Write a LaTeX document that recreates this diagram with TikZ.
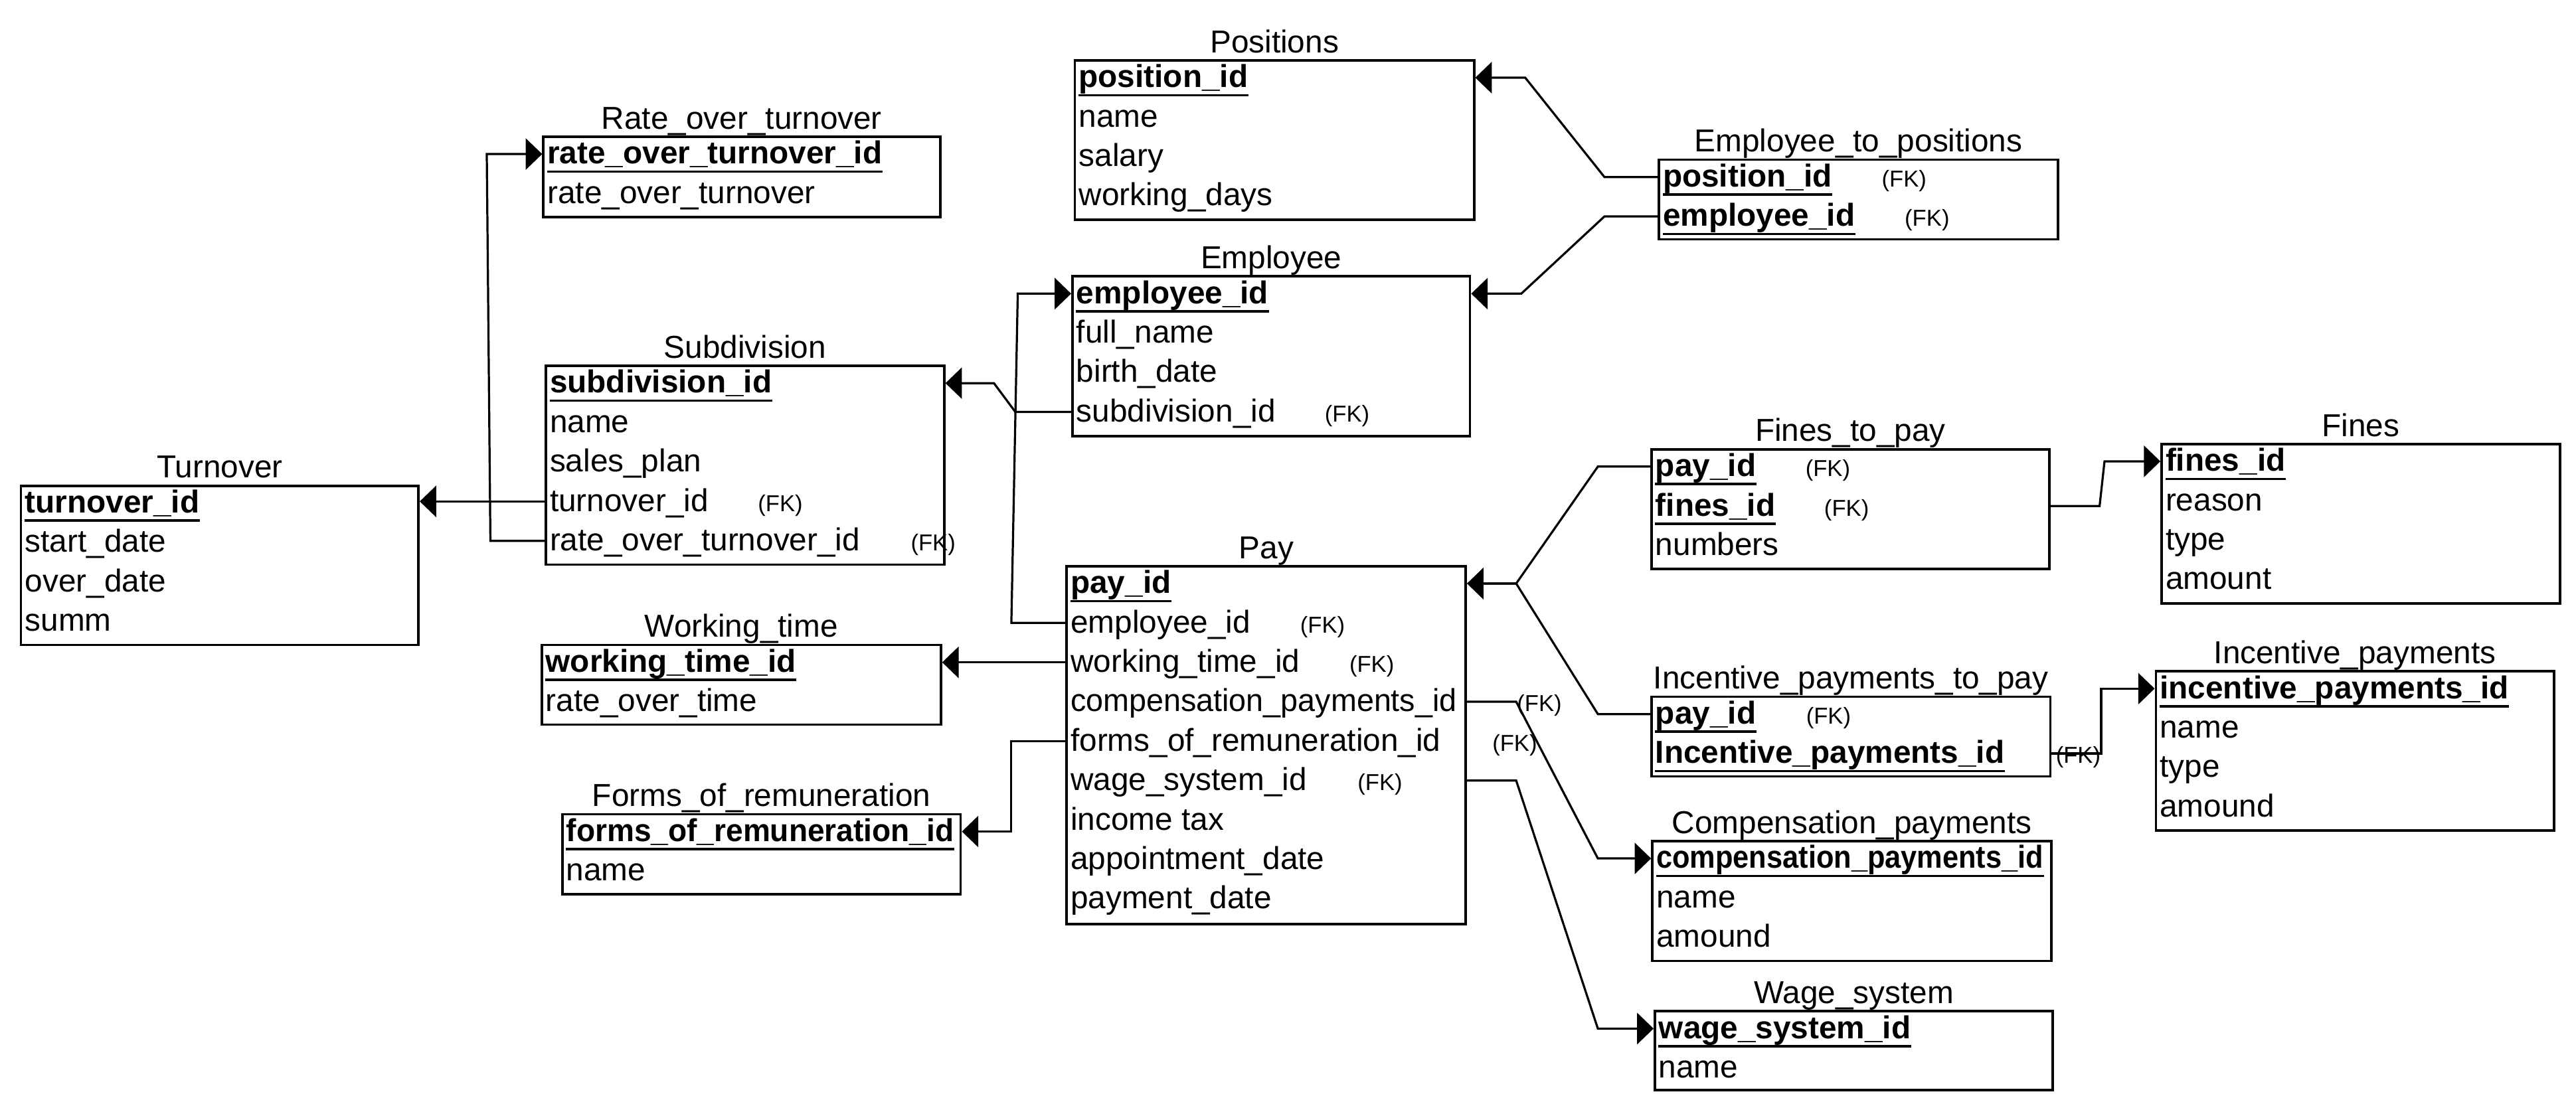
\documentclass[tikz,border=0pt]{standalone}
\usepackage{graphicx}
\usepackage{fontspec}
\setmainfont{Liberation Sans}
\usetikzlibrary{arrows.meta}

\tikzset{
  tbl/.style={draw, line width=1.5pt, anchor=north west, inner sep=0pt},
  ttl/.style={anchor=base, inner sep=0pt, font=\fontsize{19.3}{23}\selectfont},
  row/.style={anchor=west, inner sep=0pt, font=\fontsize{19.3}{23}\selectfont, text height=16.5pt, text depth=4.5pt},
  fk/.style={anchor=base, inner sep=0pt, font=\fontsize{14}{17}\selectfont},
  ul/.style={line width=1.5pt},
  link/.style={line width=1.3pt, -{Triangle[length=10pt,width=19pt]}}
}

\begin{document}
\begin{tikzpicture}[x=1pt,y=-1pt]
\useasboundingbox (0,0) rectangle (1568,674.3);

% Turnover
\node[tbl, minimum width=242pt, minimum height=97pt] (Tur) at (12,295) {};
\node[ttl] (TurT) at ([yshift=4pt]Tur.north) {Turnover};
\foreach \t [count=\n] in {\textbf{turnover\_id},start\_date,over\_date,summ}
  \node[row] (Tur\n) at (15,{282.3+24*\n}) {\t};

% Rate_over_turnover
\node[tbl, minimum width=241.5pt, minimum height=49pt] (Rot) at (330,82.5) {};
\node[ttl] (RotT) at ([yshift=4pt]Rot.north) {Rate\_over\_turnover};
\foreach \t [count=\n] in {\textbf{rate\_over\_turnover\_id},rate\_over\_turnover}
  \node[row] (Rot\n) at (333,{69.8+24*\n}) {\t};

% Subdivision
\node[tbl, minimum width=242.5pt, minimum height=121pt] (Sub) at (331.5,222) {};
\node[ttl] (SubT) at ([yshift=4pt]Sub.north) {Subdivision};
\foreach \t [count=\n] in {\textbf{subdivision\_id},name,sales\_plan,turnover\_id,rate\_over\_turnover\_id}
  \node[row] (Sub\n) at (334.5,{209.3+24*\n}) {\t};
\foreach \r/\x in {4/475,5/568}
  \node[fk] (fkSub\r) at (\x,0 |- Sub\r.base) {(FK)};

% Working_time
\node[tbl, minimum width=243pt, minimum height=48.5pt] (Wt) at (329,392) {};
\node[ttl] (WtT) at ([yshift=4pt]Wt.north) {Working\_time};
\foreach \t [count=\n] in {\textbf{working\_time\_id},rate\_over\_time}
  \node[row] (Wt\n) at (332,{379.3+24*\n}) {\t};

% Forms_of_remuneration
\node[tbl, minimum width=242.5pt, minimum height=48.7pt] (Fr) at (341.5,495) {};
\node[ttl] (FrT) at ([yshift=4pt]Fr.north) {Forms\_of\_remuneration};
\foreach \t [count=\n] in {\scalebox{0.965}[1]{\textbf{forms\_of\_remuneration\_id}},name}
  \node[row] (Fr\n) at (344.5,{482.3+24*\n}) {\t};

% Positions
\node[tbl, minimum width=243pt, minimum height=97pt] (Pos) at (653.5,36) {};
\node[ttl] (PosT) at ([yshift=4pt]Pos.north) {Positions};
\foreach \t [count=\n] in {\textbf{position\_id},name,salary,working\_days}
  \node[row] (Pos\n) at (656.5,{23.3+24*\n}) {\t};

% Employee
\node[tbl, minimum width=242pt, minimum height=97.3pt] (Emp) at (652,167.5) {};
\node[ttl] (EmpT) at ([yshift=4pt]Emp.north) {Employee};
\foreach \t [count=\n] in {\textbf{employee\_id},full\_name,birth\_date,subdivision\_id}
  \node[row] (Emp\n) at (655,{154.8+24*\n}) {\t};
\node[fk] (fkEmp4) at (820,0 |- Emp4.base) {(FK)};

% Employee_to_positions
\node[tbl, minimum width=243pt, minimum height=48.5pt] (Etp) at (1009,96.5) {};
\node[ttl] (EtpT) at ([yshift=4pt]Etp.north) {Employee\_to\_positions};
\foreach \t [count=\n] in {\textbf{position\_id},\textbf{employee\_id}}
  \node[row] (Etp\n) at (1012,{83.8+24*\n}) {\t};
\foreach \r/\x in {1/1159,2/1173}
  \node[fk] (fkEtp\r) at (\x,0 |- Etp\r.base) {(FK)};

% Pay
\node[tbl, minimum width=243pt, minimum height=218pt] (Pay) at (648.5,344) {};
\node[ttl] (PayT) at ([yshift=4pt]Pay.north) {Pay};
\foreach \t [count=\n] in {\textbf{pay\_id},employee\_id,working\_time\_id,\scalebox{0.978}[1]{compensation\_payments\_id},forms\_of\_remuneration\_id,wage\_system\_id,income tax,appointment\_date,payment\_date}
  \node[row] (Pay\n) at (651.5,{331.3+24*\n}) {\t};
\foreach \r/\x in {2/805,3/835,4/937,5/922,6/840}
  \node[fk] (fkPay\r) at (\x,0 |- Pay\r.base) {(FK)};

% Fines_to_pay
\node[tbl, minimum width=242.2pt, minimum height=72.8pt] (Ftp) at (1004.5,272.8) {};
\node[ttl] (FtpT) at ([yshift=4pt]Ftp.north) {Fines\_to\_pay};
\foreach \t [count=\n] in {\textbf{pay\_id},\textbf{fines\_id},numbers}
  \node[row] (Ftp\n) at (1007.5,{260.1+24*\n}) {\t};
\foreach \r/\x in {1/1112.6,2/1124}
  \node[fk] (fkFtp\r) at (\x,0 |- Ftp\r.base) {(FK)};

% Fines
\node[tbl, minimum width=242.4pt, minimum height=97pt] (Fin) at (1315,269.6) {};
\node[ttl] (FinT) at ([yshift=4pt]Fin.north) {Fines};
\foreach \t [count=\n] in {\textbf{fines\_id},reason,type,amount}
  \node[row] (Fin\n) at (1318,{256.9+24*\n}) {\t};

% Incentive_payments_to_pay
\node[tbl, minimum width=242.8pt, minimum height=48.5pt] (Ipp) at (1004.5,423.5) {};
\node[ttl] (IppT) at ([yshift=4pt]Ipp.north) {Incentive\_payments\_to\_pay};
\foreach \t [count=\n] in {\textbf{pay\_id},\textbf{Incentive\_payments\_id}}
  \node[row] (Ipp\n) at (1007.5,{410.8+24*\n}) {\t};
\foreach \r/\x in {1/1113,2/1265}
  \node[fk] (fkIpp\r) at (\x,0 |- Ipp\r.base) {(FK)};

% Incentive_payments
\node[tbl, minimum width=242.3pt, minimum height=97pt] (Ip) at (1311.5,408) {};
\node[ttl] (IpT) at ([yshift=4pt]Ip.north) {Incentive\_payments};
\foreach \t [count=\n] in {\textbf{incentive\_payments\_id},name,type,amound}
  \node[row] (Ip\n) at (1314.5,{395.3+24*\n}) {\t};

% Compensation_payments
\node[tbl, minimum width=243pt, minimum height=73pt] (Cp) at (1005,511.4) {};
\node[ttl] (CpT) at ([yshift=4pt]Cp.north) {Compensation\_payments};
\foreach \t [count=\n] in {\scalebox{0.908}[1]{\textbf{compensation\_payments\_id}},name,amound}
  \node[row] (Cp\n) at (1008,{498.7+24*\n}) {\t};

% Wage_system
\node[tbl, minimum width=242.3pt, minimum height=48pt] (Ws) at (1006.5,615) {};
\node[ttl] (WsT) at ([yshift=4pt]Ws.north) {Wage\_system};
\foreach \t [count=\n] in {\textbf{wage\_system\_id},name}
  \node[row] (Ws\n) at (1009.5,{602.3+24*\n}) {\t};

% primary keys
\foreach \k in {Tur1,Rot1,Sub1,Wt1,Fr1,Pos1,Emp1,Etp1,Etp2,Pay1,Ftp1,Ftp2,Fin1,Ipp1,Ipp2,Ip1,Cp1,Ws1}
  \draw[ul] (\k.south west) -- (\k.south east);

% links
\coordinate (payjoin) at (922.9,0 |- Pay1);
\draw[link] (Sub.west |- Sub4) -- (Tur.east |- Sub4);
\draw[link] (Sub.west |- Sub5) -- (298.5,0 |- Sub5) -- (296.3,0 |- Rot1) -- (Rot.west |- Rot1);
\draw[link] (Emp.west |- Emp4) -- (618,0 |- Emp4) -- (605,0 |- Sub1) -- (Sub.east |- Sub1);
\draw[link] (Pay.west |- Pay2) -- (615.6,0 |- Pay2) -- (619.5,0 |- Emp1) -- (Emp.west |- Emp1);
\draw[link] (Pay.west |- Pay3) -- (Wt.east |- Wt1);
\draw[link] (Pay.west |- Pay5) -- (615.5,0 |- Pay5) |- (Fr.east |- Fr1);
\draw[link] (Etp.west |- Etp1) -- (976.6,0 |- Etp1) -- (928.4,0 |- Pos1) -- (Pos.east |- Pos1);
\draw[link] (Etp.west |- Etp2) -- (976.6,0 |- Etp2) -- (926,0 |- Emp1) -- (Emp.east |- Emp1);
\draw[link] (Ftp.west |- Ftp1) -- (972.6,0 |- Ftp1) -- (payjoin) -- (Pay.east |- Pay1);
\draw[link] (Ipp.west |- Ipp1) -- (972.6,0 |- Ipp1) -- (payjoin) -- (Pay.east |- Pay1);
\draw[link] (Pay.east |- Pay4) -- (922.9,0 |- Pay4) -- (972.6,0 |- Cp1) -- (Cp.west |- Cp1);
\draw[link] (Pay.east |- Pay6) -- (922.9,0 |- Pay6) -- (972.6,0 |- Ws1) -- (Ws.west |- Ws1);
\draw[link] (Ftp.east |- Ftp2) -- (1278,0 |- Ftp2) -- (1281,0 |- Fin1) -- (Fin.west |- Fin1);
\draw[link] (Ipp.east |- Ipp2) -- (1279,0 |- Ipp2) -- (1279,0 |- Ip1) -- (Ip.west |- Ip1);
\end{tikzpicture}
\end{document}
